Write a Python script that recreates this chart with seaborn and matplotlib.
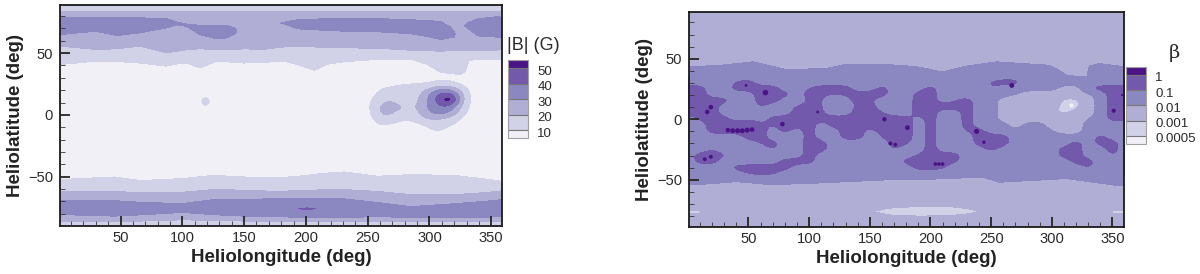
import numpy as np
import matplotlib
matplotlib.use("Agg")
import matplotlib.pyplot as plt
from matplotlib.colors import BoundaryNorm, ListedColormap
from matplotlib.patches import Rectangle
from matplotlib.transforms import ScaledTranslation
import seaborn as sns

BAND_COLORS = ["#f2f0f7", "#d1d1e7", "#b0aed4", "#8b87c0", "#7359ab", "#4a1486"]

B_LEVELS = [10, 20, 30, 40, 50]
B_LABELS = ["10", "20", "30", "40", "50"]
BETA_LEVELS = [-33, -30, -20, -10, 0]  # 10 * log10(beta)
BETA_LABELS = ["0.0005", "0.001", "0.01", "0.1", "1"]

# |B| north polar belt: latitude where each contour crosses, per longitude
BN_LON = [1, 30, 47, 66, 87, 96, 104, 114, 128, 136, 143, 150, 165, 182, 193, 207, 217, 231, 258, 285,
          298, 309, 317, 320, 325, 329, 332, 339, 355, 359]
BN_U20 = [84, 83.5, 83.5, 83.5, 83.5, 83.5, 83.5, 83.5, 83.5, 83.5, 83.5, 83.5, 83.5, 83.5, 83.5, 83.5, 83.5,
          83.5, 83.5, 83.5, 83.5, 83.5, 83.5, 83.5, 83.5, 83.5, 83.5, 83.5, 83.5, 84]
BN_U30 = [78.6, 78.6, 78.6, 78.6, 78, 75, 73.5, 72.6, 72.4, 72.4, 70, 70, 72, 75, 77, 77.5, 78, 78, 78, 77,
          76.5, 75.6, 71, 67, 70, 73, 75, 77.8, 79.5, 79]
BN_L30 = [65, 67.8, 64.3, 66.5, 70.5, 73, 71.5, 65, 61.6, 62.4, 66, 67, 70, 74, 69.7, 69, 68.4, 67.8, 67.3, 65.7,
          63.5, 61, 62.5, 63, 68, 72, 69.5, 64, 63, 63]
BN_CORE = [36, 36, 36, 36, 36, 36, 36, 36, 36, 36, 31, 25, 25, 31, 36, 36, 36, 36, 36, 36,
           36, 36, 36, 31, 25, 31, 36, 36, 36, 36]
BN_L20 = [55.7, 53, 53.5, 55.7, 50.3, 51.6, 53, 53.5, 53, 53, 53, 53.5, 53, 55, 55, 55, 54.5, 54.3, 54, 52.4,
          52, 51.6, 52, 52, 52, 52, 52, 52, 52.5, 53]
BN_L10 = [40.8, 43.5, 43.2, 42, 39.5, 41.4, 42, 38, 43.5, 43, 42.5, 42, 42.5, 43.5, 40.8, 36.2, 41, 43, 45, 45,
          41, 34.6, 33.5, 33.2, 32.7, 35, 44, 45, 45, 45]

# |B| south polar belt
BS_LON = [1, 30, 45, 66, 100, 125, 150, 177, 190, 201, 212, 231, 258, 285, 320, 345, 359]
BS_10 = [-52.4, -51, -50.3, -53.2, -51.6, -49, -50.3, -51, -50, -49, -47.5, -46.2, -49.7, -48.4, -49, -52, -53.8]
BS_20 = [-61.9, -61.9, -61.9, -63.2, -62.7, -60.5, -61, -62, -61.5, -61, -60.8, -60.5, -62, -64.6, -64.6, -63, -61.5]
BS_30U = [-69.5, -69.5, -69.5, -70.8, -71.9, -68.6, -68.3, -68, -68, -67.8, -67.8, -68, -71, -74.3, -72, -70, -68.6]
BS_30L = [-80.8, -81.5, -82, -81, -79, -80.8, -82, -82, -83, -83.5, -83.5, -83, -82.5, -83, -83.5, -83, -82]
BS_20L = [-86, -86, -86.5, -86, -85, -85.5, -86, -86, -86.5, -86.5, -86.5, -86.5, -86, -86.5, -86.5, -86, -86]
BS_CORE = [35, 35, 35, 35, 35, 35, 35, 35, 35, 49, 35, 35, 35, 35, 35, 35, 35]

# |B| active region, gauss, lon 244..340 every 8 deg, lat 28..-24 every 4 deg
AR_LON = [244, 252, 260, 268, 276, 284, 292, 300, 308, 316, 324, 332, 340]
AR_LAT = [28, 24, 20, 16, 12, 8, 4, 0, -4, -8, -12, -16, -20, -24]
AR_28 = [5, 5, 5, 5, 6, 7, 7, 8, 9, 9, 7, 5, 5]
AR_24 = [5, 5, 7, 8, 10, 11, 11, 12, 15, 15, 11, 6, 5]
AR_20 = [5, 6, 10, 13, 14, 13, 15, 24, 33, 33, 22, 8, 5]
AR_16 = [5, 7, 13, 16, 15, 13, 19, 31, 43, 47, 30, 9, 5]
AR_12 = [5, 9, 15, 20, 16, 13, 21, 33, 46, 62, 33, 9.5, 5]
AR_08 = [5, 9, 21, 24, 20, 18, 21, 34, 42, 45, 28, 9, 5]
AR_04 = [5, 9, 22, 24, 21, 18, 21, 33, 36, 36, 22, 8, 5]
AR_00 = [5, 8, 21, 22, 15, 13, 19, 29, 31, 29, 15, 7, 5]
AR_M04 = [5, 7, 16, 16, 11, 11, 15, 21, 20, 16, 10, 6, 5]
AR_M08 = [5, 5, 11, 10, 8, 7, 9, 13, 14, 12, 8, 5, 5]
AR_M12 = [5, 5, 8, 6, 5, 5, 6, 10, 12, 8, 5, 5, 5]
AR_M16 = [5, 5, 5, 5, 5, 5, 5, 7, 8, 6, 5, 5, 5]
AR_M20 = [5, 5, 5, 5, 5, 5, 5, 5, 5, 5, 5, 5, 5]
AR_M24 = [5, 5, 5, 5, 5, 5, 5, 5, 5, 5, 5, 5, 5]

B_SPOT_LON = [118]
B_SPOT_LAT = [11]

# beta polar belts
RN_LON = [1, 27, 54, 81, 114, 131, 164, 175, 191, 210, 229, 254, 298, 305, 312, 320, 329, 331, 339, 359]
RN_EDGE = [43.2, 44.6, 47.4, 41, 41.9, 45.5, 45, 44.6, 43, 39, 43.8, 47.4, 44.6, 41, 36.4, 35.5, 35.5, 44, 46, 43.5]

RS_LON = [1, 8, 14, 20, 40, 68, 100, 154, 165, 190, 215, 232, 239, 245, 257, 312, 345, 352, 359]
RS_EDGE = [-54, -53.8, -53.5, -53.2, -51.5, -54, -53, -50.5, -50, -49.8, -49, -48.2, -48, -48.5, -52, -49, -53.5,
           -54.5, -55]
RP_U = [-75, -75.3, -76.5, -75, -75, -75, -75, -76, -73.5, -72, -72, -74, -76, -75, -75, -75, -76.5, -75.5, -75]
RP_L = [-78, -77.7, -76.7, -78, -78, -78, -78, -76.4, -79, -80, -79.7, -78, -76.4, -78, -78, -78, -76.9, -77.7, -78]
RP_Z = [-32.5, -32.5, -30, -26, -26, -26, -26, -30, -32.5, -32.5, -32.5, -32.5, -30, -26, -26, -26, -30, -32.5, -32.5]

# beta in the activity belt, 10 * log10(beta), lon every 10 deg from 0 to 360
RC_LON = list(range(0, 361, 10))
RC_LAT = [35, 30, 25, 20, 15, 10, 5, 0, -5, -10, -15, -20, -25, -30, -35, -40, -45, -50]
RC_35 = [-15] * 37
RC_30 = [-15, -15, -15, -15, -9, -5, -15, -15, -15, -15,
         -15, -15, -15, -15, -15, -15, -15, -15, -15, -15,
         -15, -15, -15, -15, -15, -8, -5, -5, -15, -15,
         -15, -15, -15, -15, -15, -15, -15]
RC_25 = [-5, -5, -15, -15, -5, -5, -5, -5, -15, -15,
         -9, -5, -5, -5, -15, -15, -5, -15, -15, -15,
         -5, -15, -15, -15, -15, -9, -15, -15, -15, -15,
         -15, -24, -24, -9, -5, -5, -5]
RC_20 = [-5, -5, -15, -15, -15, -15, -5, -5, -5, -15,
         -5, -9, -10, -8, -5, -5, -5, -15, -15, -5,
         -5, -15, -15, -15, -15, -15, -15, -19, -25, -25,
         -25, -25, -25, -21, -15, -5, -5]
RC_15 = [-5, -5, -5, -5, -15, -15, -5, -5, -15, -15,
         -8, -9, -15, -15, -5, -9, -15, -15, -15, -5,
         -5, -15, -10, -5, -15, -15, -25, -25, -25, -25,
         -25, -32, -32, -25, -15, -5, -5]
RC_10 = [-5, -5, -5, -15, -15, -15, -8, -15, -15, -8,
         -8, -9, -15, -15, -8, -5, -15, -15, -15, -5,
         -5, -5, -5, -5, -15, -15, -25, -25, -25, -25,
         -27, -32, -32, -25, -15, -5, -5]
RC_05 = [-5, -5, -5, -15, -15, -15, -15, -15, -15, -5,
         -6, -8, -15, -15, -5, -5, -9, -15, -15, -5,
         -5, -15, -15, -5, -15, -15, -25, -25, -25, -25,
         -29, -32, -27, -25, -15, -5, -5]
RC_00 = [-15, -8, -5, -5, -15, -9, -15, -5, -5, -5,
         -5, -8, -5, -5, -5, -5, -5, -5, -5, -15,
         -5, -15, -15, -5, -15, -15, -25, -25, -25, -25,
         -25, -25, -25, -19, -15, -5, -8]
RC_M05 = [-15, -15, -5, -5, -5, -5, -7, -11, -5, -8,
          -5, -15, -5, -5, -5, -5, -5, -5, -5, -15,
          -5, -15, -15, -5, -15, -15, -15, -25, -15, -15,
          -25, -25, -25, -15, -15, -15, -15]
RC_M10 = [-15, -15, -5, -5, -5, -5, -5, -15, -5, -15,
          -5, -15, -15, -5, -5, -15, -5, -12, -5, -15,
          -5, -15, -15, -9, -5, -15, -15, -19, -15, -15,
          -19, -25, -25, -15, -15, -15, -15]
RC_M15 = [-15, -15, -15, -15, -15, -5, -5, -15, -15, -15,
          -5, -15, -15, -5, -5, -15, -9, -5, -5, -15,
          -5, -15, -15, -15, -5, -5, -5, -15, -15, -15,
          -15, -15, -15, -15, -5, -15, -15]
RC_M20 = [-15, -15, -15, -15, -15, -15, -9, -5, -15, -15,
          -5, -5, -15, -15, -15, -15, -15, -5, -8, -15,
          -5, -15, -15, -15, -5, -5, -5, -15, -15, -5,
          -15, -15, -5, -15, -5, -5, -15]
RC_M25 = [-15, -15, -9, -15, -15, -15, -15, -8, -15, -15,
          -5, -5, -15, -15, -15, -15, -15, -8, -15, -15,
          -5, -15, -15, -15, -15, -5, -15, -15, -15, -15,
          -15, -5, -5, -15, -15, -5, -15]
RC_M30 = [-15, -5, -5, -8, -15, -15, -15, -15, -15, -15,
          -5, -15, -15, -15, -15, -15, -15, -15, -15, -8,
          -5, -5, -5, -15, -15, -15, -15, -15, -15, -15,
          -15, -5, -5, -15, -15, -8, -15]
RC_M35 = [-15, -5, -5, -15, -15, -15, -15, -15, -5, -5,
          -5, -15, -15, -15, -15, -5, -15, -15, -5, -5,
          -5, -5, -8, -15, -15, -15, -15, -15, -15, -15,
          -15, -15, -5, -5, -15, -15, -15]
RC_M40 = [-15, -15, -15, -15, -5, -5, -5, -5, -5, -15,
          -15, -15, -15, -15, -15, -15, -15, -15, -15, -5,
          -5, -8, -15, -15, -15, -15, -15, -15, -15, -15,
          -15, -15, -15, -8, -15, -15, -15]
RC_M45 = [-15, -15, -15, -15, -15, -9, -8, -8, -15, -15,
          -15, -15, -15, -15, -15, -15, -15, -15, -15, -15,
          -15, -15, -15, -15, -15, -15, -15, -15, -15, -15,
          -15, -15, -15, -15, -15, -15, -15]
RC_M50 = [-15] * 37

# small beta peaks above 1, too tight for the table
PEAK_LON = [16, 19, 48, 64, 33, 37, 41, 45, 49, 53, 78, 107, 162, 167, 171, 181, 14, 19, 204, 207, 210, 238, 244, 267, 351, 358]
PEAK_LAT = [6, 10, 28, 22, -9, -9.5, -9.5, -9.5, -9, -8.5, -4, 6, 0, -20, -21, -7, -33, -31, -37, -37, -37, -10, -19, 28, 7, 20]
PEAK_SIZE = [11, 11, 4, 16, 11, 13, 13, 13, 13, 11, 11, 4, 10, 8, 8, 12, 8, 8, 7, 7, 7, 14, 6, 13, 9, 3]
MIN_LON = [316]
MIN_LAT = [12]


def smooth_table(ax, lon, lat, table, levels, clip=None):
    # lat runs from north to south; cell edges sit half a step out from the table points
    dx = lon[1] - lon[0]
    dy = lat[0] - lat[1]
    cmap = ListedColormap(BAND_COLORS[1:-1])
    cmap.set_under(BAND_COLORS[0])
    cmap.set_over(BAND_COLORS[-1])
    im = ax.imshow(np.array(table, dtype=float), origin="upper", aspect="auto",
                   extent=[lon[0] - dx / 2, lon[-1] + dx / 2, lat[-1] - dy / 2, lat[0] + dy / 2],
                   cmap=cmap, norm=BoundaryNorm(levels, cmap.N), interpolation="bicubic",
                   interpolation_stage="data", zorder=1)
    if clip is not None:
        im.set_clip_path(Rectangle((lon[0], clip[0]), lon[-1] - lon[0], clip[1] - clip[0], transform=ax.transData))
    return im


def style_axes(ax, x_top, y_low, y_high):
    ax.set_axisbelow(False)
    ax.set_xlim(1, x_top)
    ax.set_ylim(y_low, y_high)
    ax.set_xticks(range(50, 351, 50))
    ax.set_xticks(range(10, 351, 10), minor=True)
    ax.set_yticks([-50, 0, 50])
    ax.set_yticks(range(-80, 81, 10), minor=True)
    ax.tick_params(which="major", direction="in", length=7.2, width=1.3, labelsize=10.6,
                   labelcolor="#2a2a2a", pad=5)
    ax.tick_params(axis="x", which="major", pad=3.8)
    ax.tick_params(which="minor", direction="in", length=3.3, width=0.6, color="#333333")
    ax.set_xlabel("Heliolongitude (deg)", fontsize=13.5, fontweight="bold", color="#222222", labelpad=3)
    ax.set_ylabel("Heliolatitude (deg)", fontsize=13.5, fontweight="bold", color="#222222", labelpad=3)
    for spine in ax.spines.values():
        spine.set_visible(True)
        spine.set_linewidth(1.3)
        spine.set_color("#1a1a1a")


def add_legend(fig, cs, box, frac, levels, labels):
    cax = fig.add_axes(box)
    cbar = fig.colorbar(cs, cax=cax, extendrect=True, extendfrac=frac, drawedges=True)
    cbar.set_ticks(levels, labels=labels)
    cbar.ax.tick_params(length=0, labelsize=9.5, pad=7, labelcolor="#2a2a2a", which="both")
    cbar.ax.minorticks_off()
    cbar.dividers.set_color("#777777")
    cbar.dividers.set_linewidth(0.8)
    cbar.outline.set_edgecolor("#a0a0a0")
    cbar.outline.set_linewidth(0.8)
    shift = ScaledTranslation(0, -2 / 100, fig.dpi_scale_trans)
    for label in cbar.ax.get_yticklabels():
        label.set_transform(label.get_transform() + shift)


def main():
    sns.set_theme(style="ticks")
    plt.rcParams["font.family"] = ["Liberation Sans", "DejaVu Sans"]
    palette = sns.color_palette(BAND_COLORS)

    fig = plt.figure(figsize=(12, 2.74), dpi=100)
    W, H = 1200, 274

    # |B| panel
    ax = fig.add_axes([60 / W, (H - 226) / H, 442 / W, 221 / H])
    ax.set_facecolor(BAND_COLORS[0])
    kw = dict(levels=B_LEVELS, colors=palette, extend="both")

    core = np.array(BN_CORE, dtype=float)
    edge = np.minimum(core, 30)
    n = len(BN_LON)
    north_y = np.array([[90] * n, BN_U20, BN_U30, (np.array(BN_U30) + np.array(BN_L30)) / 2, BN_L30, BN_L20, BN_L10, [30] * n])
    north_z = np.array([[14] * n, [20] * n, edge, core, edge, [20] * n, [10] * n, [5] * n])
    north_x = np.tile(BN_LON, (north_y.shape[0], 1))
    cs = ax.contourf(north_x, north_y, north_z, **kw)

    n = len(BS_LON)
    south_y = np.array([[-30] * n, BS_10, BS_20, BS_30U, [-75] * n, [-76] * n, [-77] * n, BS_30L, BS_20L, [-90] * n])
    south_z = np.array([[5] * n, [10] * n, [20] * n, [30] * n, [35] * n, BS_CORE, [35] * n, [30] * n, [20] * n, [14] * n])
    south_x = np.tile(BS_LON, (south_y.shape[0], 1))
    ax.contourf(south_x, south_y, south_z, **kw)

    active = [AR_28, AR_24, AR_20, AR_16, AR_12, AR_08, AR_04, AR_00, AR_M04, AR_M08, AR_M12, AR_M16, AR_M20, AR_M24]
    smooth_table(ax, AR_LON, AR_LAT, active, B_LEVELS)
    sns.scatterplot(x=B_SPOT_LON, y=B_SPOT_LAT, s=36, color=BAND_COLORS[1], linewidth=0, ax=ax, zorder=3)

    style_axes(ax, 358.7, -90, 89)
    add_legend(fig, cs, [507.7 / W, (H - 138.5) / H, 20 / W, 78.5 / H], 0.138, B_LEVELS, B_LABELS)
    fig.text(507 / W, (H - 45) / H, "|B| (G)", fontsize=13, color="#2a2a2a", ha="left", va="center")

    # beta panel
    ax2 = fig.add_axes([689 / W, (H - 227) / H, 435 / W, 215.5 / H])
    ax2.set_facecolor(BAND_COLORS[3])
    kw = dict(levels=BETA_LEVELS, colors=palette, extend="both")

    n = len(RN_LON)
    rn_y = np.array([[90] * n, RN_EDGE, [30] * n])
    rn_z = np.array([[-25] * n, [-20] * n, [-15] * n])
    cs2 = ax2.contourf(np.tile(RN_LON, (3, 1)), rn_y, rn_z, **kw)

    n = len(RS_LON)
    pale = np.array(RP_Z)
    pale_edge = np.maximum(pale, -30)
    rs_y = np.array([[-30] * n, RS_EDGE, [-68] * n, RP_U, (np.array(RP_U) + np.array(RP_L)) / 2, RP_L, [-85] * n, [-90] * n])
    rs_z = np.array([[-15] * n, [-20] * n, [-25] * n, pale_edge, pale, pale_edge, [-25] * n, [-25] * n])
    ax2.contourf(np.tile(RS_LON, (rs_y.shape[0], 1)), rs_y, rs_z, **kw)

    belt = [RC_35, RC_30, RC_25, RC_20, RC_15, RC_10, RC_05, RC_00, RC_M05, RC_M10, RC_M15, RC_M20, RC_M25,
            RC_M30, RC_M35, RC_M40, RC_M45, RC_M50]
    smooth_table(ax2, RC_LON, RC_LAT, belt, BETA_LEVELS, clip=(-47, 35))

    sns.scatterplot(x=PEAK_LON, y=PEAK_LAT, size=PEAK_SIZE, sizes=(min(PEAK_SIZE), max(PEAK_SIZE)),
                    color=BAND_COLORS[5], linewidth=0, ax=ax2, legend=False, zorder=3)
    sns.scatterplot(x=MIN_LON, y=MIN_LAT, s=9, color=BAND_COLORS[0], linewidth=0, ax=ax2, zorder=3)

    style_axes(ax2, 359.5, -89, 89)
    add_legend(fig, cs2, [1126.3 / W, (H - 144) / H, 19.4 / W, 77.3 / H], 0.135, BETA_LEVELS, BETA_LABELS)
    fig.text(1174 / W, (H - 53) / H, "\u03b2", fontsize=14, family="DejaVu Serif", color="#2a2a2a", ha="center", va="center")

    fig.savefig("out.png", dpi=100)


if __name__ == "__main__":
    main()
